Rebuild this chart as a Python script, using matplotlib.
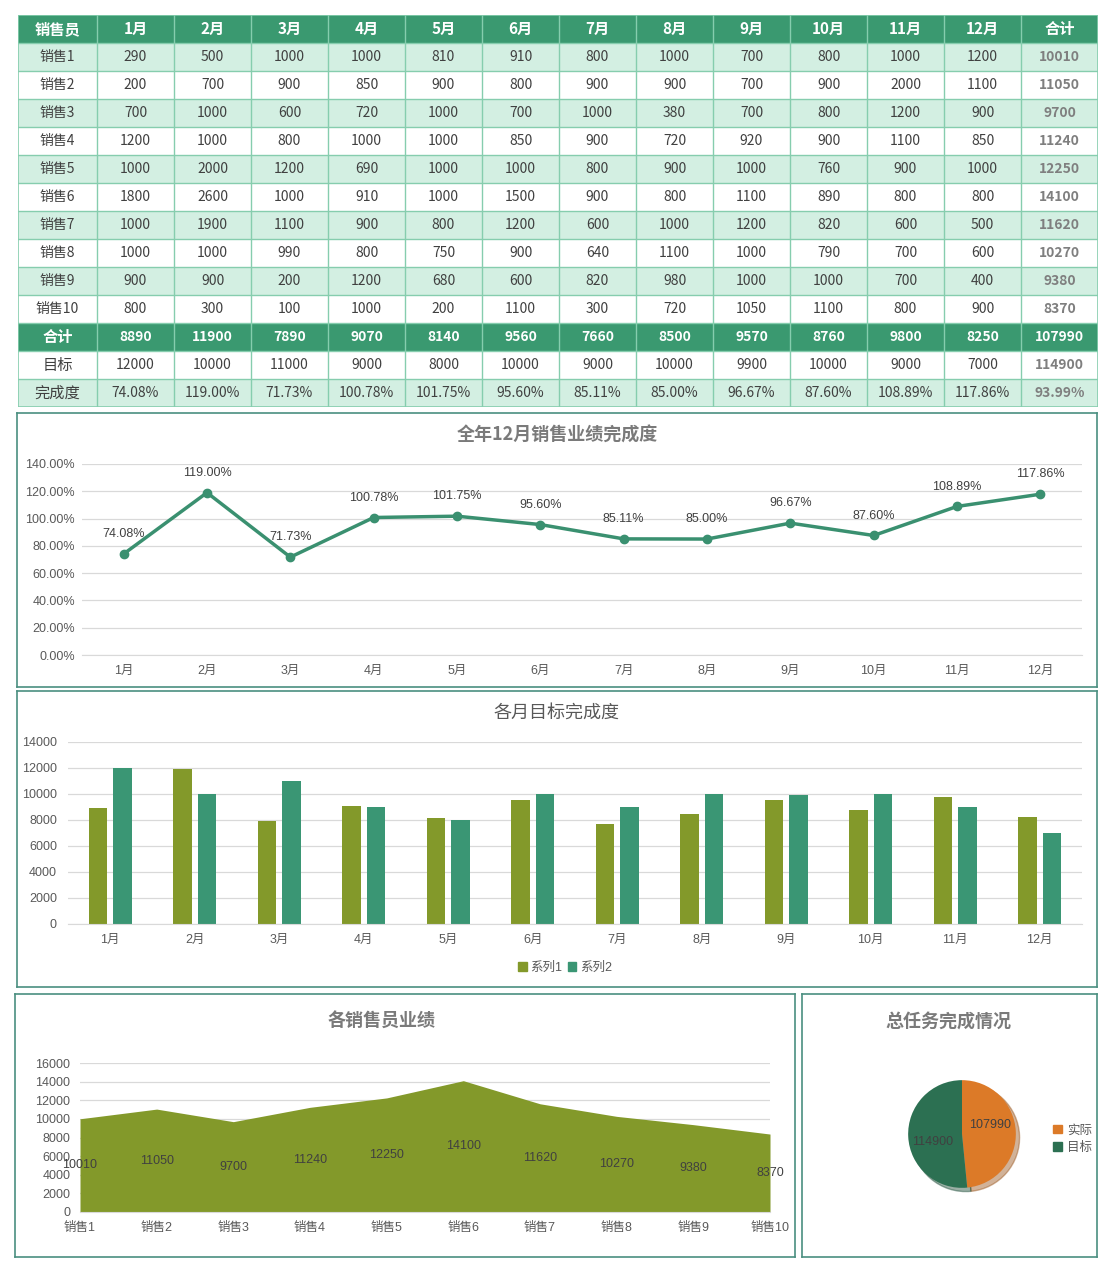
import matplotlib
matplotlib.use("Agg")
import matplotlib.pyplot as plt
from matplotlib.patches import Rectangle, Patch

# charts: Arial-like digits, CJK fallback
plt.rcParams["font.family"] = ["Liberation Sans", "Noto Sans CJK SC", "DejaVu Sans"]
TABLE_FONT = ["Noto Sans CJK SC", "DejaVu Sans"]

# ---- data ----
months = ["1月", "2月", "3月", "4月", "5月", "6月", "7月", "8月", "9月", "10月", "11月", "12月"]
sellers = ["销售1", "销售2", "销售3", "销售4", "销售5", "销售6", "销售7", "销售8", "销售9", "销售10"]
sales = [
    [290, 500, 1000, 1000, 810, 910, 800, 1000, 700, 800, 1000, 1200],
    [200, 700, 900, 850, 900, 800, 900, 900, 700, 900, 2000, 1100],
    [700, 1000, 600, 720, 1000, 700, 1000, 380, 700, 800, 1200, 900],
    [1200, 1000, 800, 1000, 1000, 850, 900, 720, 920, 900, 1100, 850],
    [1000, 2000, 1200, 690, 1000, 1000, 800, 900, 1000, 760, 900, 1000],
    [1800, 2600, 1000, 910, 1000, 1500, 900, 800, 1100, 890, 800, 800],
    [1000, 1900, 1100, 900, 800, 1200, 600, 1000, 1200, 820, 600, 500],
    [1000, 1000, 990, 800, 750, 900, 640, 1100, 1000, 790, 700, 600],
    [900, 900, 200, 1200, 680, 600, 820, 980, 1000, 1000, 700, 400],
    [800, 300, 100, 1000, 200, 1100, 300, 720, 1050, 1100, 800, 900],
]
seller_totals = [10010, 11050, 9700, 11240, 12250, 14100, 11620, 10270, 9380, 8370]
month_totals = [8890, 11900, 7890, 9070, 8140, 9560, 7660, 8500, 9570, 8760, 9800, 8250]
targets = [12000, 10000, 11000, 9000, 8000, 10000, 9000, 10000, 9900, 10000, 9000, 7000]
completion = [74.08, 119.00, 71.73, 100.78, 101.75, 95.60, 85.11, 85.00, 96.67, 87.60, 108.89, 117.86]
grand_total = 107990
grand_target = 114900
grand_completion = 93.99

pie_labels = ["实际", "目标"]
pie_values = [grand_total, grand_target]

# ---- style ----
HDR = "#3a9970"
MINT = "#d3efe2"
GRIDC = "#86cdae"
FRAME = "#4a8f80"
TXT = "#404040"
TICK = "#595959"
TITLE = "#7a7a7a"
OLIVE = "#83992a"
GREEN = "#3a9674"
LINEC = "#3a9070"
PIE_OR = "#dc7a28"
PIE_GR = "#2c7052"

W, H = 1113, 1273
fig = plt.figure(figsize=(W / 100, H / 100), dpi=100)
fig.patch.set_facecolor("white")


def px_axes(x0, y0, x1, y1, **kw):
    return fig.add_axes([x0 / W, 1 - y1 / H, (x1 - x0) / W, (y1 - y0) / H], **kw)


def frame(x0, y0, x1, y1):
    ax = px_axes(x0, y0, x1, y1)
    ax.set_xticks([])
    ax.set_yticks([])
    ax.patch.set_alpha(0)
    for s in ax.spines.values():
        s.set_color(FRAME)
        s.set_linewidth(1.2)
    return ax


def fx(x):
    return x / W


def fy(y):
    return 1 - y / H


# ---- table ----
tx0, ty0, tx1, ty1 = 18, 15, 1098, 407
ax_t = px_axes(tx0, ty0, tx1, ty1)
ax_t.set_xlim(tx0, tx1)
ax_t.set_ylim(ty1, ty0)
ax_t.axis("off")

col_edges = [18] + [97 + 77 * i for i in range(13)] + [1098]
row_h = 28
n_rows = 14

header = ["销售员"] + months + ["合计"]
rows = []
for i, s in enumerate(sellers):
    rows.append([s] + [str(v) for v in sales[i]] + [str(seller_totals[i])])
rows.append(["合计"] + [str(v) for v in month_totals] + [str(grand_total)])
rows.append(["目标"] + [str(v) for v in targets] + [str(grand_target)])
rows.append(["完成度"] + [f"{v:.2f}%" for v in completion] + [f"{grand_completion:.2f}%"])
all_rows = [header] + rows

for r in range(n_rows):
    y = ty0 + r * row_h
    dark = r == 0 or r == 11
    if dark:
        fc = HDR
    elif r <= 10:
        fc = MINT if r % 2 == 1 else "white"
    elif r == 12:
        fc = "white"
    else:
        fc = MINT
    ax_t.add_patch(Rectangle((tx0, y), tx1 - tx0, row_h, facecolor=fc, edgecolor="none"))
    for c in range(len(col_edges) - 1):
        xc = (col_edges[c] + col_edges[c + 1]) / 2
        txt = all_rows[r][c]
        if dark:
            color, weight, size = "white", "bold", 11 if (c == 0 or r == 0) else 10
        elif c == 13:
            color, weight, size = "#7f7f7f", "bold", 10
        else:
            color, weight, size = TXT, "normal", 11 if (c == 0 and r >= 12) else 10
        ax_t.text(xc, y + row_h / 2, txt, ha="center", va="center", family=TABLE_FONT,
                  color=color, fontsize=size, fontweight=weight)

for r in range(1, n_rows):
    ax_t.plot([tx0, tx1], [ty0 + r * row_h] * 2, color=GRIDC, lw=1)
for xe in col_edges[1:-1]:
    ax_t.plot([xe, xe], [ty0, ty1], color=GRIDC, lw=1)
ax_t.add_patch(Rectangle((tx0, ty0), tx1 - tx0, ty1 - ty0, facecolor="none",
                         edgecolor=GRIDC, lw=1.2))


def style_axes(ax):
    for k in ["top", "right", "left"]:
        ax.spines[k].set_visible(False)
    ax.spines["bottom"].set_color("#d9d9d9")
    ax.grid(axis="y", color="#d9d9d9", lw=0.9)
    ax.set_axisbelow(True)
    ax.tick_params(length=0, labelsize=9, colors=TICK)


# ---- line chart: completion ----
frame(17, 413, 1097, 687)
fig.text(fx(557), fy(435), "全年12月销售业绩完成度", ha="center", va="center",
         fontsize=13, fontweight="bold", color=TITLE, family=TABLE_FONT)
ax_l = px_axes(82, 464, 1082, 655)
xs = list(range(len(months)))
comp_frac = [v / 100 for v in completion]
ax_l.plot(xs, comp_frac, color=LINEC, lw=2.5, marker="o", ms=6, zorder=3)
for x, v, f in zip(xs, completion, comp_frac):
    ax_l.annotate(f"{v:.2f}%", (x, f), xytext=(0, 10), textcoords="offset points",
                  ha="center", va="bottom", fontsize=9, color=TXT)
ax_l.set_xlim(-0.5, 11.5)
ax_l.set_ylim(0, 1.4)
ax_l.set_yticks([i * 0.2 for i in range(8)])
ax_l.set_yticklabels([f"{i * 20:.2f}%" for i in range(8)])
ax_l.set_xticks(xs)
ax_l.set_xticklabels(months)
style_axes(ax_l)
ax_l.tick_params(axis="x", pad=7)
ax_l.tick_params(axis="y", pad=5)

# ---- bar chart: actual vs target ----
frame(17, 691, 1097, 987)
fig.text(fx(557), fy(713), "各月目标完成度", ha="center", va="center",
         fontsize=13, color=TICK, family=TABLE_FONT)
ax_b = px_axes(68, 742, 1082, 924)
bw = 0.22
ax_b.bar([x - 0.145 for x in xs], month_totals, width=bw, color=OLIVE, label="系列1")
ax_b.bar([x + 0.145 for x in xs], targets, width=bw, color=GREEN, label="系列2")
ax_b.set_xlim(-0.5, 11.5)
ax_b.set_ylim(0, 14000)
ax_b.set_yticks(range(0, 14001, 2000))
ax_b.set_xticks(xs)
ax_b.set_xticklabels(months)
style_axes(ax_b)
ax_b.tick_params(axis="x", pad=7)
ax_b.tick_params(axis="y", pad=8)
fig.legend(handles=[Patch(color=OLIVE, label="系列1"), Patch(color=GREEN, label="系列2")],
           loc="center", bbox_to_anchor=(fx(565), fy(968)), ncol=2, frameon=False,
           fontsize=9, handlelength=0.7, handleheight=0.7, handletextpad=0.3,
           columnspacing=0.4, labelcolor=TICK)

# ---- area chart: per seller ----
frame(15, 994, 795, 1257)
fig.text(fx(382), fy(1020), "各销售员业绩", ha="center", va="center",
         fontsize=13, fontweight="bold", color=TITLE, family=TABLE_FONT)
ax_a = px_axes(80, 1063, 770, 1212)
sx = list(range(len(sellers)))
ax_a.fill_between(sx, seller_totals, color=OLIVE, lw=0, zorder=2)
for x, v in zip(sx, seller_totals):
    ax_a.text(x, v / 2, str(v), ha="center", va="center", fontsize=9, color=TXT, zorder=3)
ax_a.set_xlim(0, 9)
ax_a.set_ylim(0, 16000)
ax_a.set_yticks(range(0, 16001, 2000))
ax_a.set_xticks(sx)
ax_a.set_xticklabels(sellers)
style_axes(ax_a)
ax_a.tick_params(axis="x", pad=7)
ax_a.tick_params(axis="y", pad=7)

# ---- pie chart ----
frame(802, 994, 1097, 1257)
fig.text(fx(948), fy(1021), "总任务完成情况", ha="center", va="center",
         fontsize=13, fontweight="bold", color=TITLE, family=TABLE_FONT)
ax_p = px_axes(906, 1078, 1018, 1190)
wedges, texts = ax_p.pie(pie_values, colors=[PIE_OR, PIE_GR], startangle=90,
                         counterclock=False,
                         shadow={"ox": 0.05, "oy": -0.05, "shade": 0.3, "alpha": 0.45},
                         labels=[str(v) for v in pie_values], labeldistance=0.5,
                         textprops={"fontsize": 9, "color": TXT})
texts[0].set_position((0.52, 0.17))
texts[1].set_position((-0.55, -0.15))
for t in texts:
    t.set_ha("center")
    t.set_va("center")
ax_p.set_xlim(-1.04, 1.04)
ax_p.set_ylim(-1.04, 1.04)
ax_p.set_aspect("equal")
fig.legend(handles=[Patch(color=PIE_OR, label=pie_labels[0]),
                    Patch(color=PIE_GR, label=pie_labels[1])],
           loc="center left", bbox_to_anchor=(fx(1042), fy(1139)), frameon=False,
           fontsize=9, handlelength=0.7, handleheight=0.7, handletextpad=0.4,
           labelspacing=0.4, labelcolor=TICK)

fig.savefig("out.png", dpi=100)
